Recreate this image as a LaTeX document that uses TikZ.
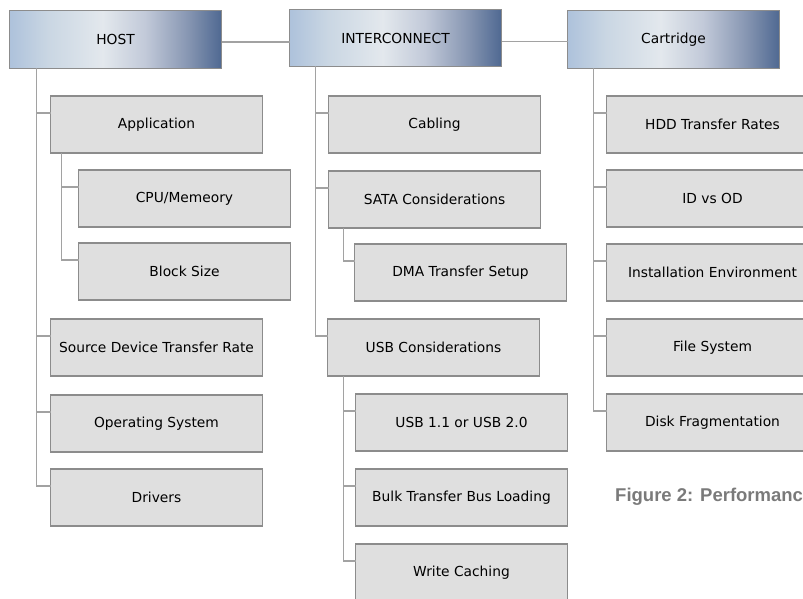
\documentclass[tikz,border=0pt]{standalone}
\usepackage{fontspec}
\setmainfont{DejaVu Sans}
\newfontfamily\capfont{Liberation Sans}
\usetikzlibrary{positioning}
\definecolor{boxgray}{RGB}{223,223,223}
\definecolor{edgegray}{RGB}{140,140,140}
\definecolor{linegray}{RGB}{162,162,162}
\definecolor{capgray}{RGB}{122,122,122}
\pgfdeclarehorizontalshading{hdrshade}{100bp}{rgb(0bp)=(0.68,0.76,0.86); rgb(25bp)=(0.68,0.76,0.86); rgb(34bp)=(0.79,0.84,0.89); rgb(47bp)=(0.89,0.91,0.93); rgb(57bp)=(0.76,0.79,0.85); rgb(67bp)=(0.53,0.59,0.70); rgb(75bp)=(0.31,0.41,0.57); rgb(100bp)=(0.31,0.41,0.57)}

\begin{document}
\begin{tikzpicture}[x=1pt,y=1pt,
  font=\fontsize{13.8}{16}\selectfont,
  box/.style={draw=edgegray, line width=1.2pt, fill=boxgray, minimum width=212pt, minimum height=57pt, inner sep=0pt, outer sep=0pt},
  hdr/.style={box, shading=hdrshade},
  link/.style={draw=linegray, line width=1.2pt}]
\useasboundingbox (0,0) rectangle (803,-599);
\clip (0,0) rectangle (803,-599);
% headers
\node[hdr, minimum height=58pt] (H) at (115.5,-39.5) {HOST};
\node[hdr] (I) at (395.5,-38) {INTERCONNECT};
\node[hdr, minimum height=58pt] (C) at (673.5,-39.5) {Cartridge};
% host column
\node[box, below right = 27.5pt and 41pt of H.south west, anchor=north west] (H1) {Application};
\node[box, below right = 17pt and 28pt of H1.south west, anchor=north west] (H11) {CPU/Memeory};
\node[box, below = 16pt of H11.south west, anchor=north west] (H12) {Block Size};
\node[box, below left = 19pt and 28pt of H12.south west, anchor=north west] (H2) {Source Device Transfer Rate};
\node[box, below = 19pt of H2.south west, anchor=north west] (H3) {Operating System};
\node[box, below = 17pt of H3.south west, anchor=north west] (H4) {Drivers};
% interconnect column
\node[box, below right = 29.5pt and 39pt of I.south west, anchor=north west] (I1) {Cabling};
\node[box, below = 18pt of I1.south west, anchor=north west] (I2) {SATA Considerations};
\node[box, below right = 16pt and 26pt of I2.south west, anchor=north west] (I21) {DMA Transfer Setup};
\node[box, below left = 18pt and 27pt of I21.south west, anchor=north west] (I3) {USB Considerations};
\node[box, below right = 18pt and 28pt of I3.south west, anchor=north west] (I31) {USB 1.1 or USB 2.0};
\node[box, below = 18pt of I31.south west, anchor=north west] (I32) {Bulk Transfer Bus Loading};
\node[box, below = 18pt of I32.south west, anchor=north west] (I33) {Write Caching};
% cartridge column
\node[box, below right = 27.5pt and 39pt of C.south west, anchor=north west] (C1) {HDD Transfer Rates};
\node[box, below = 17pt of C1.south west, anchor=north west] (C2) {ID vs OD};
\node[box, below = 17pt of C2.south west, anchor=north west] (C3) {Installation Environment};
\node[box, below = 18pt of C3.south west, anchor=north west] (C4) {File System};
\node[box, below = 18pt of C4.south west, anchor=north west] (C5) {Disk Fragmentation};
\node[anchor=base west, inner sep=0pt, text=capgray, font=\capfont\bfseries\fontsize{18.5}{20}\selectfont] (cap) at (615,-501) {Figure 2: Performanc};
% links
\draw[link] ([yshift=-2.5pt]H.east) -- ([yshift=-2.5pt]H.east -| I.west);
\draw[link] ([yshift=-3.5pt]I.east) -- ([yshift=-3.5pt]I.east -| C.west);
\draw[link] ([xshift=27pt]H.south west) |- ([yshift=11.5pt]H1.west);
\draw[link] ([xshift=11pt]H1.south west) |- ([yshift=11.5pt]H11.west);
\draw[link] ([xshift=11pt]H1.south west) |- ([yshift=11.5pt]H12.west);
\draw[link] ([xshift=27pt]H.south west) |- ([yshift=11.5pt]H2.west);
\draw[link] ([xshift=27pt]H.south west) |- ([yshift=11.5pt]H3.west);
\draw[link] ([xshift=27pt]H.south west) |- ([yshift=11.5pt]H4.west);
\draw[link] ([xshift=26pt]I.south west) |- ([yshift=11.5pt]I1.west);
\draw[link] ([xshift=26pt]I.south west) |- ([yshift=11.5pt]I2.west);
\draw[link] ([xshift=15pt]I2.south west) |- ([yshift=11.5pt]I21.west);
\draw[link] ([xshift=26pt]I.south west) |- ([yshift=11.5pt]I3.west);
\draw[link] ([xshift=16pt]I3.south west) |- ([yshift=11.5pt]I31.west);
\draw[link] ([xshift=16pt]I3.south west) |- ([yshift=11.5pt]I32.west);
\draw[link] ([xshift=16pt]I3.south west) |- ([yshift=11.5pt]I33.west);
\draw[link] ([xshift=26pt]C.south west) |- ([yshift=11.5pt]C1.west);
\draw[link] ([xshift=26pt]C.south west) |- ([yshift=11.5pt]C2.west);
\draw[link] ([xshift=26pt]C.south west) |- ([yshift=11.5pt]C3.west);
\draw[link] ([xshift=26pt]C.south west) |- ([yshift=11.5pt]C4.west);
\draw[link] ([xshift=26pt]C.south west) |- ([yshift=11.5pt]C5.west);
\end{tikzpicture}
\end{document}
